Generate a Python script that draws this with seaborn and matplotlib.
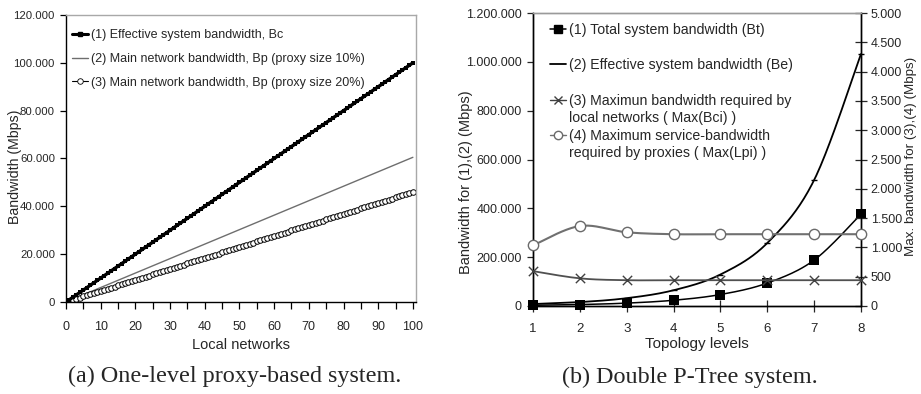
import numpy as np
import pandas as pd
import matplotlib
matplotlib.use("Agg")
import matplotlib.pyplot as plt
from matplotlib.lines import Line2D
import seaborn as sns

# ---------------- data: (a) one-level proxy-based system ----------------
local_networks = list(range(0, 101))
bc_effective = [0, 1000, 2000, 3000, 4000, 5000, 6000, 7000, 8000, 9000,
                10000, 11000, 12000, 13000, 14000, 15000, 16000, 17000, 18000, 19000,
                20000, 21000, 22000, 23000, 24000, 25000, 26000, 27000, 28000, 29000,
                30000, 31000, 32000, 33000, 34000, 35000, 36000, 37000, 38000, 39000,
                40000, 41000, 42000, 43000, 44000, 45000, 46000, 47000, 48000, 49000,
                50000, 51000, 52000, 53000, 54000, 55000, 56000, 57000, 58000, 59000,
                60000, 61000, 62000, 63000, 64000, 65000, 66000, 67000, 68000, 69000,
                70000, 71000, 72000, 73000, 74000, 75000, 76000, 77000, 78000, 79000,
                80000, 81000, 82000, 83000, 84000, 85000, 86000, 87000, 88000, 89000,
                90000, 91000, 92000, 93000, 94000, 95000, 96000, 97000, 98000, 99000,
                100000]
bp_proxy10 = [0, 605, 1210, 1815, 2420, 3025, 3630, 4235, 4840, 5445,
              6050, 6655, 7260, 7865, 8470, 9075, 9680, 10285, 10890, 11495,
              12100, 12705, 13310, 13915, 14520, 15125, 15730, 16335, 16940, 17545,
              18150, 18755, 19360, 19965, 20570, 21175, 21780, 22385, 22990, 23595,
              24200, 24805, 25410, 26015, 26620, 27225, 27830, 28435, 29040, 29645,
              30250, 30855, 31460, 32065, 32670, 33275, 33880, 34485, 35090, 35695,
              36300, 36905, 37510, 38115, 38720, 39325, 39930, 40535, 41140, 41745,
              42350, 42955, 43560, 44165, 44770, 45375, 45980, 46585, 47190, 47795,
              48400, 49005, 49610, 50215, 50820, 51425, 52030, 52635, 53240, 53845,
              54450, 55055, 55660, 56265, 56870, 57475, 58080, 58685, 59290, 59895,
              60500]
bp_proxy20 = [0, 460, 920, 1380, 1840, 2300, 2760, 3220, 3680, 4140,
              4600, 5060, 5520, 5980, 6440, 6900, 7360, 7820, 8280, 8740,
              9200, 9660, 10120, 10580, 11040, 11500, 11960, 12420, 12880, 13340,
              13800, 14260, 14720, 15180, 15640, 16100, 16560, 17020, 17480, 17940,
              18400, 18860, 19320, 19780, 20240, 20700, 21160, 21620, 22080, 22540,
              23000, 23460, 23920, 24380, 24840, 25300, 25760, 26220, 26680, 27140,
              27600, 28060, 28520, 28980, 29440, 29900, 30360, 30820, 31280, 31740,
              32200, 32660, 33120, 33580, 34040, 34500, 34960, 35420, 35880, 36340,
              36800, 37260, 37720, 38180, 38640, 39100, 39560, 40020, 40480, 40940,
              41400, 41860, 42320, 42780, 43240, 43700, 44160, 44620, 45080, 45540,
              46000]
a_labels = ["(1) Effective system bandwidth, Bc",
            "(2) Main network bandwidth, Bp (proxy size 10%)",
            "(3) Main network bandwidth, Bp (proxy size 20%)"]
a_xticks = [0, 10, 20, 30, 40, 50, 60, 70, 80, 90, 100]
a_yticks = [0, 20000, 40000, 60000, 80000, 100000, 120000]
a_ytick_labels = ["0", "20.000", "40.000", "60.000", "80.000", "100.000", "120.000"]

# ---------------- data: (b) double P-Tree system ----------------
levels = [1, 2, 3, 4, 5, 6, 7, 8]
bt_total = [2900, 5900, 11800, 23500, 47000, 94000, 188000, 376000]
be_effective = [8000, 16000, 32000, 64500, 129000, 258000, 516000, 1032000]
max_bci = [595, 472, 440, 440, 440, 440, 440, 440]
max_lpi = [1034, 1365, 1258, 1225, 1225, 1225, 1225, 1225]
b_labels_top = ["(1) Total system bandwidth (Bt)",
                "(2) Effective system bandwidth (Be)"]
b_labels_bottom = ["(3) Maximun bandwidth required by",
                   "local networks ( Max(Bci) )",
                   "(4) Maximum service-bandwidth",
                   "required by proxies ( Max(Lpi) )"]
b_yticks_left = [0, 200000, 400000, 600000, 800000, 1000000, 1200000]
b_ytick_labels_left = ["0", "200.000", "400.000", "600.000", "800.000", "1.000.000", "1.200.000"]
b_yticks_right = [0, 500, 1000, 1500, 2000, 2500, 3000, 3500, 4000, 4500, 5000]
b_ytick_labels_right = ["0", "500", "1.000", "1.500", "2.000", "2.500", "3.000",
                        "3.500", "4.000", "4.500", "5.000"]


def smooth(xs, ys, n=24):
    """Catmull-Rom curve through the data points (spreadsheet-style smoothed line)."""
    x = np.asarray(xs, float)
    y = np.asarray(ys, float)
    px = np.concatenate([[x[0]], x, [x[-1]]])
    py = np.concatenate([[y[0]], y, [y[-1]]])
    t = np.linspace(0, 1, n)[:-1]
    ox, oy = [], []
    for i in range(1, len(x)):
        for p, out in ((px, ox), (py, oy)):
            p0, p1, p2, p3 = p[i - 1], p[i], p[i + 1], p[i + 2]
            out.extend(0.5 * (2 * p1 + (-p0 + p2) * t + (2 * p0 - 5 * p1 + 4 * p2 - p3) * t ** 2
                              + (-p0 + 3 * p1 - 3 * p2 + p3) * t ** 3))
    ox.append(x[-1]); oy.append(y[-1])
    return np.array(ox), np.array(oy)


sns.set_style("white")
plt.rcParams["font.family"] = ["Liberation Sans", "DejaVu Sans"]

fig = plt.figure(figsize=(9.21, 3.94), dpi=100)

# ================= (a) =================
axA = fig.add_axes([66 / 921, 1 - 302 / 394, 350 / 921, 287 / 394])
dfA = pd.DataFrame({"n": local_networks, "bc": bc_effective,
                    "p10": bp_proxy10, "p20": bp_proxy20})
sns.lineplot(data=dfA, x="n", y="p10", ax=axA, color="#6e6e6e", lw=1.0)
sns.lineplot(data=dfA, x="n", y="p20", ax=axA, color="black", lw=0.8,
             marker="o", markersize=4.0, markerfacecolor="white",
             markeredgecolor="black", markeredgewidth=0.7)
sns.lineplot(data=dfA, x="n", y="bc", ax=axA, color="black", lw=2.4,
             marker="s", markersize=3.0, markeredgewidth=0)
axA.set_xlim(0, 100.9)
axA.set_ylim(0, 120000)
axA.set_xticks(a_xticks)
axA.set_xticklabels([str(v) for v in a_xticks])
axA.set_xticks(list(range(5, 100, 10)), minor=True)
axA.set_yticks(a_yticks)
axA.set_yticklabels(a_ytick_labels)
axA.tick_params(axis="x", which="both", direction="out", length=5, width=0.9,
                color="black", labelsize=9, pad=9, bottom=True)
axA.tick_params(axis="y", direction="out", length=4, width=0.9, color="black",
                labelsize=8.2, pad=4, left=True)
for s in ["left", "bottom"]:
    axA.spines[s].set_color("black"); axA.spines[s].set_linewidth(1.0)
for s in ["top", "right"]:
    axA.spines[s].set_color("#a8a8a8"); axA.spines[s].set_linewidth(1.0)
axA.set_xlabel("Local networks", fontsize=10.5, labelpad=3)
axA.set_ylabel("Bandwidth (Mbps)", fontsize=10.2)
axA.yaxis.set_label_coords((22 - 66) / 350, 1 - (167 - 15) / 287)
hA = [Line2D([], [], color="black", lw=2.2, marker="s", markersize=3),
      Line2D([], [], color="#6e6e6e", lw=1.0),
      Line2D([], [], color="black", lw=0.8, marker="o", markersize=4,
             markerfacecolor="white", markeredgewidth=0.6)]
axA.legend(hA, a_labels, loc="upper left", bbox_to_anchor=(0.017, 0.95), frameon=False,
           fontsize=9, handlelength=1.3, handletextpad=0.2,
           labelspacing=0.93, borderaxespad=0, borderpad=0)

# ================= (b) =================
axB = fig.add_axes([533 / 921, 1 - 306 / 394, 328 / 921, 293 / 394])
axR = axB.twinx()
sx, sy = smooth(levels, bt_total)
sns.lineplot(x=sx, y=sy, ax=axB, color="black", lw=1.1, sort=False)
sns.scatterplot(x=levels, y=bt_total, ax=axB, color="black", marker="s", s=45,
                edgecolor="black", linewidth=0, zorder=5, clip_on=False)
sx, sy = smooth(levels, be_effective)
sns.lineplot(x=sx, y=sy, ax=axB, color="black", lw=1.3, sort=False)
sns.scatterplot(x=levels, y=be_effective, ax=axB, color="black", marker="_", s=20,
                linewidth=1.0, zorder=5, clip_on=False)
sx, sy = smooth(levels, max_bci)
sns.lineplot(x=sx, y=sy, ax=axR, color="#505050", lw=1.3, sort=False)
sns.scatterplot(x=levels, y=max_bci, ax=axR, color="#404040", marker="x", s=45,
                linewidth=1.0, zorder=5, clip_on=False)
sx, sy = smooth(levels, max_lpi)
sns.lineplot(x=sx, y=sy, ax=axR, color="#707070", lw=1.5, sort=False)
sns.scatterplot(x=levels, y=max_lpi, ax=axR, facecolor="white", marker="o", s=55,
                edgecolor="#6a6a6a", linewidth=1.0, zorder=5, clip_on=False)

axB.set_xlim(1, 8)
axB.set_ylim(0, 1200000)
axR.set_ylim(0, 5000)
axB.set_xticks(levels)
axB.set_xticklabels([str(v) for v in levels])
axB.set_yticks(b_yticks_left)
axB.set_yticklabels(b_ytick_labels_left)
axR.set_yticks(b_yticks_right)
axR.set_yticklabels(b_ytick_labels_right)
for ax in (axB, axR):
    for s in ax.spines.values():
        s.set_color("black"); s.set_linewidth(1.0)
    ax.spines["top"].set_color("#9a9a9a")
axB.tick_params(axis="x", direction="inout", length=8, width=0.9, labelsize=9.5, pad=8, bottom=True)
axB.tick_params(axis="y", direction="out", length=4, width=0.9, labelsize=9, pad=4, left=True)
axR.tick_params(axis="y", direction="inout", length=8, width=0.9, labelsize=9, pad=3, right=True)
axB.set_xlabel("Topology levels", fontsize=11, labelpad=2)
axB.set_ylabel("Bandwidth for (1),(2) (Mbps)", fontsize=10.5)
axB.yaxis.set_label_coords((473 - 533) / 328, 1 - (182 - 13) / 293)
axR.set_ylabel("Max. bandwidth for (3),(4) (Mbps)", fontsize=9.6)
axR.yaxis.set_label_coords((905 - 533) / 328, 1 - (156 - 13) / 293)
hB1 = [Line2D([], [], color="black", lw=1.1, marker="s", markersize=5.5),
       Line2D([], [], color="black", lw=1.3)]
hB2 = [Line2D([], [], color="#404040", lw=1.0, marker="x", markersize=6),
       Line2D([], [], color="none"),
       Line2D([], [], color="#707070", lw=1.0, marker="o", markersize=6,
              markerfacecolor="white", markeredgecolor="#6a6a6a"),
       Line2D([], [], color="none")]
legB1 = axR.legend(hB1, b_labels_top, loc="upper left", bbox_to_anchor=(0.052, 0.966),
                   frameon=False, fontsize=10.2, handlelength=1.15, handletextpad=0.2,
                   labelspacing=1.5, borderaxespad=0, borderpad=0)
axR.add_artist(legB1)
axR.legend(hB2, b_labels_bottom, loc="upper left", bbox_to_anchor=(0.052, 0.725),
           frameon=False, fontsize=10.2, handlelength=1.15, handletextpad=0.2,
           labelspacing=0.25, borderaxespad=0, borderpad=0)

# captions
fig.text(235 / 921, 1 - 376 / 394, "(a) One-level proxy-based system.", ha="center",
         va="center", fontsize=17.4, family=["Liberation Serif", "DejaVu Serif"])
fig.text(690 / 921, 1 - 377 / 394, "(b) Double P-Tree system.", ha="center",
         va="center", fontsize=17.4, family=["Liberation Serif", "DejaVu Serif"])

fig.savefig("out.png", dpi=100)
